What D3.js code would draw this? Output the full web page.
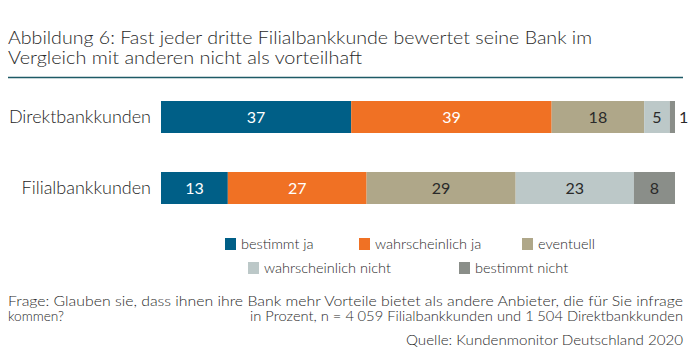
<!DOCTYPE html>
<html><head><meta charset="utf-8">
<script src="https://cdn.jsdelivr.net/npm/d3@7"></script>
<style>
html,body{margin:0;padding:0;background:#fff;}
svg{display:block;font-family:Lato,"Noto Sans",sans-serif;font-weight:300;}
</style></head>
<body>
<script>
const categories = ["Direktbankkunden", "Filialbankkunden"];
const seriesNames = ["bestimmt ja", "wahrscheinlich ja", "eventuell", "wahrscheinlich nicht", "bestimmt nicht"];
const bestimmtJa = [37, 13];
const wahrscheinlichJa = [39, 27];
const eventuell = [18, 29];
const wahrscheinlichNicht = [5, 23];
const bestimmtNicht = [1, 8];
const colors = ["#005f87", "#f07124", "#afa789", "#bcc8c8", "#8a8e89"];
const labelColors = ["#fff", "#fff", "#2a2a2a", "#2a2a2a", "#2a2a2a"];
const titleLines = ["Abbildung 6: Fast jeder dritte Filialbankkunde bewertet seine Bank im",
                    "Vergleich mit anderen nicht als vorteilhaft"];
const footQuestion = ["Frage: Glauben sie, dass ihnen ihre Bank mehr Vorteile bietet als andere Anbieter, die für Sie infrage", "kommen?"];
const footNote = "in Prozent, n = 4\u202F059 Filialbankkunden und 1\u202F504 Direktbankkunden";
const footSource = "Quelle: Kundenmonitor Deutschland 2020";

const W = 692, H = 364;
const svg = d3.select("body").append("svg").attr("width", W).attr("height", H);

// title
svg.selectAll("text.title").data(titleLines).join("text")
  .attr("class","title")
  .attr("x", 8).attr("y", (d,i) => 44 + i*20)
  .attr("font-size", 18).attr("fill", "#2a2a2a")
  .attr("textLength", (d,i) => i === 0 ? 584 : 354)
  .attr("lengthAdjust", "spacingAndGlyphs")
  .text(d => d);
svg.append("line").attr("x1", 8).attr("x2", 683).attr("y1", 77.5).attr("y2", 77.5)
  .attr("stroke", "#1d5a66").attr("stroke-width", 1.5);

// data
const seriesVals = [bestimmtJa, wahrscheinlichJa, eventuell, wahrscheinlichNicht, bestimmtNicht];
const rows = categories.map((c, i) => {
  const r = {cat: c};
  seriesNames.forEach((s, j) => r[s] = seriesVals[j][i]);
  return r;
});
const stacked = d3.stack().keys(seriesNames)(rows);

const x = d3.scaleLinear().domain([0, 100]).range([161, 675]);
const y0 = d3.scaleOrdinal().domain(categories).range([101, 172]);
const bh = 32;

const g = svg.append("g");
stacked.forEach((layer, j) => {
  const lg = g.append("g");
  lg.selectAll("rect").data(layer).join("rect")
    .attr("x", d => x(d[0])).attr("y", d => y0(d.data.cat))
    .attr("width", d => x(d[1]) - x(d[0])).attr("height", bh)
    .attr("fill", colors[j]);
  lg.selectAll("text").data(layer).join("text")
    .attr("x", d => (d[1]-d[0]) < 3 ? x(d[1]) + 4 : (x(d[0]) + x(d[1]))/2)
    .attr("y", d => y0(d.data.cat) + bh/2 + 5.5)
    .attr("text-anchor", d => (d[1]-d[0]) < 3 ? "start" : "middle")
    .attr("font-size", 16).attr("font-weight", 400)
    .attr("fill", d => (d[1]-d[0]) < 3 ? "#2a2a2a" : labelColors[j])
    .text(d => d[1]-d[0]);
});

// category labels
svg.selectAll("text.cat").data(categories).join("text")
  .attr("class","cat")
  .attr("x", 151).attr("y", d => y0(d) + bh/2 + 6)
  .attr("text-anchor", "end").attr("font-size", 18).attr("fill", "#1e1e1e")
  .text(d => d);

// legend
const legendPos = [[225,244],[359,244],[522,244],[248,268],[459,268]];
const leg = svg.selectAll("g.leg").data(seriesNames).join("g").attr("class","leg")
  .attr("transform", (d,i) => `translate(${legendPos[i][0]},${legendPos[i][1]})`);
leg.append("rect").attr("x", 0).attr("y", -6).attr("width", 11).attr("height", 12)
  .attr("fill", (d,i) => colors[i]);
leg.append("text").attr("x", 16).attr("y", 5).attr("font-size", 14.5).attr("fill", "#2a2a2a")
  .text(d => d);

// footer
svg.append("text").attr("x", 8).attr("y", 306).attr("font-size", 13).attr("fill", "#2a2a2a")
  .attr("textLength", 675).attr("lengthAdjust", "spacingAndGlyphs").text(footQuestion[0]);
svg.append("text").attr("x", 8).attr("y", 321).attr("font-size", 13).attr("fill", "#2a2a2a")
  .attr("textLength", 56).attr("lengthAdjust", "spacingAndGlyphs")
  .text(footQuestion[1]);
svg.append("text").attr("x", 250).attr("y", 321).attr("font-size", 13).attr("fill", "#2a2a2a")
  .attr("textLength", 433).attr("lengthAdjust", "spacingAndGlyphs").text(footNote);
svg.append("text").attr("x", 406).attr("y", 345).attr("font-size", 13.5).attr("fill", "#2a2a2a")
  .attr("textLength", 277).attr("lengthAdjust", "spacingAndGlyphs").text(footSource);
</script>
</body></html>
